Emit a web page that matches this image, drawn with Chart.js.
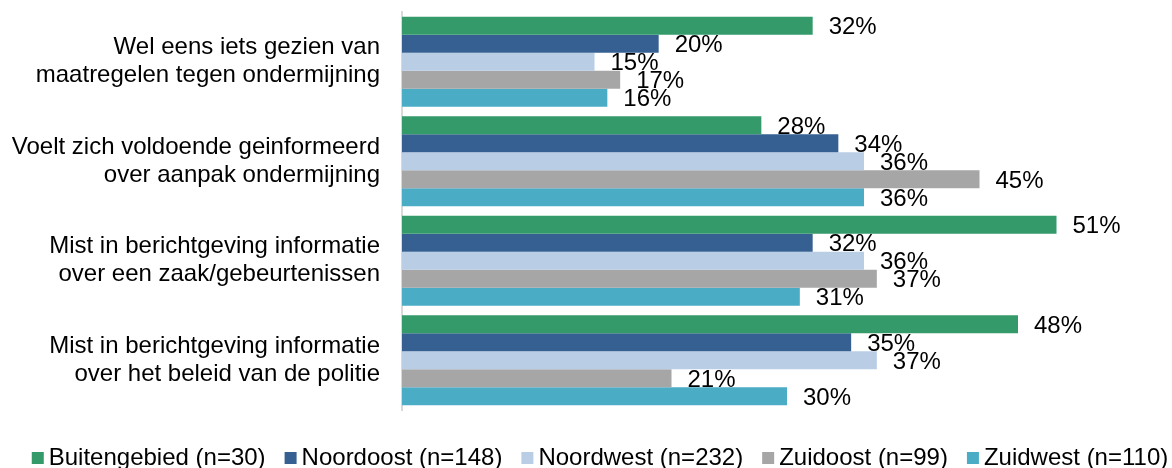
<!DOCTYPE html>
<html>
<head>
<meta charset="utf-8">
<script src="https://cdn.jsdelivr.net/npm/chart.js@4.4.1/dist/chart.umd.min.js"></script>
<style>
  html, body { margin: 0; padding: 0; background: #fff; }
  #wrap { width: 1172px; height: 468px; }
</style>
</head>
<body>
<div id="wrap"><canvas id="chartOndermijning"></canvas></div>
<script>
// vragen (y-as), meerdere regels per label
const vragen = [
    ['Wel eens iets gezien van', 'maatregelen tegen ondermijning'],
    ['Voelt zich voldoende geinformeerd', 'over aanpak ondermijning'],
    ['Mist in berichtgeving informatie', 'over een zaak/gebeurtenissen'],
    ['Mist in berichtgeving informatie', 'over het beleid van de politie']
];

const gebieden = ['Buitengebied (n=30)', 'Noordoost (n=148)', 'Noordwest (n=232)', 'Zuidoost (n=99)', 'Zuidwest (n=110)'];
const kleuren = ['#359a6a', '#366092', '#b9cde5', '#a6a6a6', '#4bacc6'];

// percentages per gebied, in volgorde van de vragen
const buitengebied = [32, 28, 51, 48];
const noordoost = [20, 34, 32, 35];
const noordwest = [15, 36, 36, 37];
const zuidoost = [17, 45, 37, 21];
const zuidwest = [16, 36, 31, 30];

const reeksen = [buitengebied, noordoost, noordwest, zuidoost, zuidwest];

const lettertype = { family: 'Liberation Sans, Arial, sans-serif', size: 24, lineHeight: 1.17 };
const fontString = `${lettertype.size}px ${lettertype.family}`;

// percentage rechts naast elke balk
const balkLabels = {
    id: 'balkLabels',
    afterDatasetsDraw(chart) {
        const ctx = chart.ctx;
        ctx.save();
        ctx.font = fontString;
        ctx.fillStyle = '#000';
        ctx.textAlign = 'left';
        ctx.textBaseline = 'middle';
        chart.data.datasets.forEach((ds, i) => {
            chart.getDatasetMeta(i).data.forEach((bar, j) => {
                ctx.fillText(`${ds.data[j]}%`, bar.x + 16, bar.y + 2);
            });
        });
        ctx.restore();
    }
};

// legenda onderaan: klein blokje, korte afstand tot de tekst
const legendaOnder = {
    id: 'legendaOnder',
    afterDraw(chart) {
        const ctx = chart.ctx;
        const blok = 12, tussen = 5, gat = 19, midY = 458;
        ctx.save();
        ctx.font = fontString;
        ctx.textBaseline = 'middle';
        ctx.textAlign = 'left';
        const breedtes = chart.data.datasets.map(ds => ctx.measureText(ds.label).width);
        const totaal = breedtes.reduce((s, b) => s + blok + tussen + b, 0) + gat * (breedtes.length - 1);
        let x = chart.width / 2 + 14 - totaal / 2;
        chart.data.datasets.forEach((ds, i) => {
            ctx.fillStyle = ds.backgroundColor;
            ctx.fillRect(x, midY - blok / 2, blok, blok);
            ctx.fillStyle = '#000';
            ctx.fillText(ds.label, x + blok + tussen, midY);
            x += blok + tussen + breedtes[i] + gat;
        });
        ctx.restore();
    }
};

const ctxOndermijning = document.getElementById('chartOndermijning').getContext('2d');

new Chart(ctxOndermijning, {
    type: 'bar',
    data: {
        labels: vragen,
        datasets: gebieden.map((naam, i) => ({
            label: naam,
            data: reeksen[i],
            backgroundColor: kleuren[i],
            borderWidth: 0,
            categoryPercentage: 0.905,
            barPercentage: 1.0
        }))
    },
    options: {
        indexAxis: 'y',
        responsive: true,
        maintainAspectRatio: false,
        animation: false,
        layout: { padding: { top: 12, left: 0, right: 0, bottom: 0 } },
        scales: {
            x: {
                min: 0,
                max: 60,
                grid: { display: false, drawTicks: false },
                border: { display: false },
                ticks: { display: false },
                afterFit: scale => { scale.height = 58; }
            },
            y: {
                grid: { display: false, drawTicks: false },
                border: { display: true, color: '#d9d9d9', width: 2 },
                ticks: { color: '#000', font: lettertype, padding: 22 },
                afterFit: scale => {
                    scale.width = 402;
                    scale.paddingTop = 0;
                    scale.paddingBottom = 0;
                }
            }
        },
        plugins: {
            legend: { display: false },
            tooltip: { enabled: false }
        }
    },
    plugins: [balkLabels, legendaOnder]
});
</script>
</body>
</html>
